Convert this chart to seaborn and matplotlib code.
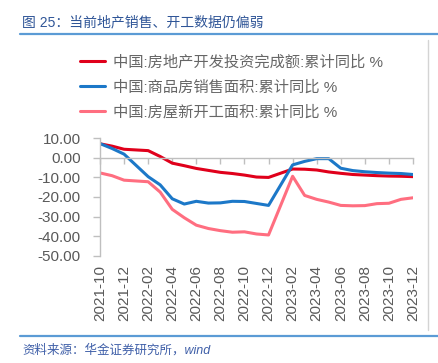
import matplotlib
matplotlib.use("Agg")
import matplotlib.pyplot as plt
import numpy as np
import pandas as pd
import seaborn as sns
from matplotlib.lines import Line2D

# ---------------- data ----------------
months = ['2021-10', '2021-11', '2021-12',
          '2022-02', '2022-03', '2022-04', '2022-05', '2022-06', '2022-07',
          '2022-08', '2022-09', '2022-10', '2022-11', '2022-12',
          '2023-02', '2023-03', '2023-04', '2023-05', '2023-06', '2023-07',
          '2023-08', '2023-09', '2023-10', '2023-11', '2023-12']
invest = [7.2, 6.0, 4.4,
          3.7, 0.7, -2.7, -4.0, -5.4, -6.4,
          -7.4, -8.0, -8.8, -9.8, -10.0,
          -5.7, -5.8, -6.2, -7.2, -7.9, -8.5,
          -8.8, -9.1, -9.3, -9.4, -9.6]
sales = [7.3, 4.8, 1.9,
         -9.6, -13.8, -20.9, -23.6, -22.2, -23.1,
         -23.0, -22.2, -22.3, -23.3, -24.3,
         -3.6, -1.8, -0.4, -0.4, -5.3, -6.5,
         -7.1, -7.5, -7.8, -8.0, -8.5]
starts = [-7.7, -9.1, -11.4,
          -12.2, -17.5, -26.3, -30.6, -34.4, -36.1,
          -37.2, -38.0, -37.8, -38.9, -39.4,
          -9.4, -19.2, -21.2, -22.6, -24.3, -24.5,
          -24.4, -23.4, -23.2, -21.2, -20.4]
tick_labels = ['2021-10', '2021-12', '2022-02', '2022-04', '2022-06', '2022-08',
               '2022-10', '2022-12', '2023-02', '2023-04', '2023-06', '2023-08',
               '2023-10', '2023-12']
series_names = ['中国:房地产开发投资完成额:累计同比 %',
                '中国:商品房销售面积:累计同比 %',
                '中国:房屋新开工面积:累计同比 %']
colors = ['#E0001B', '#1C78C8', '#FF6E80']
title = '图 25：当前地产销售、开工数据仍偏弱'
source = '资料来源：华金证券研究所，wind'


def month_index(s):
    y, m = map(int, s.split('-'))
    return (y - 2021) * 12 + (m - 10)


xs = [month_index(m) for m in months]
df = pd.concat([
    pd.DataFrame({'x': xs, 'value': vals, 'series': name})
    for name, vals in zip(series_names, [invest, sales, starts])
], ignore_index=True)

# ---------------- style ----------------
sns.set_theme(style='white')
plt.rcParams['font.family'] = ['Liberation Sans', 'Noto Sans CJK SC', 'DejaVu Sans']

W, H = 438, 363
fig = plt.figure(figsize=(W / 100, H / 100), dpi=100)
ax = fig.add_axes([100 / W, (H - 255.7) / H, 313 / W, 117.4 / H])

sns.lineplot(data=df, x='x', y='value', hue='series', hue_order=series_names,
             palette=colors, linewidth=2.2, sort=False, legend=False, ax=ax)

gray = '#BFBFBF'
txt = '#595959'
ax.set_xlim(0, 26)
ax.set_ylim(-50, 10)
ax.set_xlabel('')
ax.set_ylabel('')
yt = list(range(-50, 11, 10))
ax.set_yticks(yt, labels=[f'{v:.2f}' for v in yt])
ax.tick_params(axis='y', direction='out', length=5, width=1, color=gray,
               pad=9, labelsize=11, labelcolor=txt, left=True)
for s in ['top', 'right']:
    ax.spines[s].set_visible(False)
ax.spines['left'].set_color(gray)
ax.spines['left'].set_linewidth(1)
ax.spines['bottom'].set_position(('data', 0))
ax.spines['bottom'].set_color(gray)
ax.spines['bottom'].set_linewidth(1)
ticks = [month_index(t) for t in tick_labels]
ax.set_xticks(ticks)
ax.tick_params(axis='x', direction='out', length=4, width=1, color=gray,
               labelbottom=False, bottom=True)

sec = ax.secondary_xaxis('bottom')
sec.set_xticks(ticks, labels=tick_labels)
sec.tick_params(axis='x', length=0, pad=7, labelsize=11, labelcolor=txt,
                labelrotation=90)
sec.spines['bottom'].set_visible(False)

handles = [Line2D([], [], color=c, lw=2.2) for c in colors]
fig.legend(handles, series_names, loc='upper left',
           bbox_to_anchor=(80 / W, (H - 55) / H), bbox_transform=fig.transFigure,
           frameon=False, borderpad=0, borderaxespad=0, handlelength=1.65,
           handletextpad=0.5, labelspacing=0.7, fontsize=11, labelcolor='#666666')

# ---------------- decorations ----------------
fig.text(22 / W, (H - 22) / H, title, fontsize=10, color='#2F5597',
         va='center', ha='left')
fig.add_artist(Line2D([20 / W, 1], [(H - 34) / H] * 2, color='#5B9BD5', lw=1.6))
fig.add_artist(Line2D([20 / W, 1], [(H - 336) / H] * 2, color='#5B9BD5', lw=1.6))
fig.add_artist(Line2D([428 / W] * 2, [(H - 40) / H, (H - 330) / H], color='#D4D4D4', lw=1))
fig.text(22 / W, (H - 350) / H, source, fontsize=9, color='#3F5FA8',
         style='italic', va='center', ha='left')

fig.savefig('out.png', dpi=100)
